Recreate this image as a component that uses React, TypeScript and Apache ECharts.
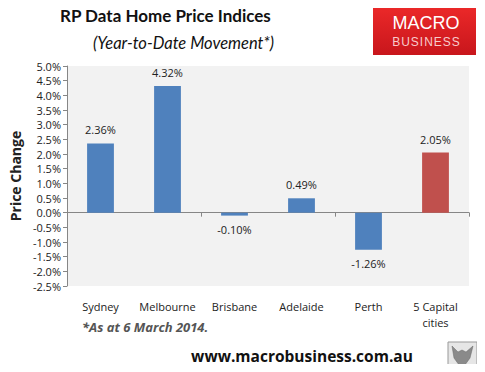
import React, { useEffect, useRef } from "react";
import * as echarts from "echarts";

const categories = ["Sydney", "Melbourne", "Brisbane", "Adelaide", "Perth", "5 Capital\ncities"];
const priceChange = [2.36, 4.32, -0.1, 0.49, -1.26, 2.05];
const barColors = ["#4f81bd", "#4f81bd", "#4f81bd", "#4f81bd", "#4f81bd", "#c0504d"];
const yMin = -2.5;
const yMax = 5;
const yStep = 0.5;

const FONT = "Open Sans";

export default function App() {
  const ref = useRef<HTMLDivElement>(null);
  useEffect(() => {
    if (!ref.current) return;
    const chart = echarts.init(ref.current, null, { renderer: "svg" });
    const option: any = {
      animation: false,
      backgroundColor: "#ffffff",
      textStyle: { fontFamily: FONT },
      grid: {
        left: 65,
        right: 16,
        top: 66,
        bottom: 86,
        show: true,
        backgroundColor: "#f2f2f2",
        borderWidth: 0,
      },
      xAxis: [
        {
          type: "category",
          data: categories,
          position: "bottom",
          axisLine: { show: true, onZero: true, lineStyle: { color: "#868686", width: 1 } },
          axisTick: { show: true, length: 4, lineStyle: { color: "#868686" } },
          axisLabel: { show: false },
        },
        {
          type: "category",
          data: categories,
          position: "bottom",
          axisLine: { show: false, onZero: false },
          axisTick: { show: false },
          axisLabel: {
            show: true,
            color: "#222",
            fontSize: 11,
            fontFamily: FONT,
            margin: 12,
            lineHeight: 16,
            interval: 0,
          },
        },
      ],
      yAxis: {
        type: "value",
        min: yMin,
        max: yMax,
        interval: yStep,
        name: "Price Change",
        nameLocation: "middle",
        nameGap: 44,
        nameTextStyle: { fontSize: 14, fontWeight: "bold", color: "#222", fontFamily: FONT },
        axisLine: { show: true, lineStyle: { color: "#868686" } },
        axisTick: { show: true, length: 4, lineStyle: { color: "#868686" } },
        splitLine: { show: false },
        axisLabel: {
          color: "#222",
          fontSize: 11,
          fontFamily: FONT,
          margin: 6,
          formatter: (v: number) => v.toFixed(1) + "%",
        },
      },
      series: [
        {
          type: "bar",
          xAxisIndex: 0,
          barWidth: "40%",
          data: priceChange.map((v, i) => ({
            value: v,
            itemStyle: { color: barColors[i] },
            label: { position: v >= 0 ? "top" : "bottom" },
          })),
          label: {
            show: true,
            color: "#222",
            fontSize: 11,
            fontFamily: FONT,
            distance: 8,
            formatter: (p: any) => p.value.toFixed(2) + "%",
          },
        },
      ],
      graphic: [
        {
          type: "text",
          left: 60,
          top: 7,
          style: { text: "RP Data Home Price Indices", font: "bold 17px Lato", fill: "#111" },
        },
        {
          type: "text",
          left: 93,
          top: 34,
          style: { text: "(Year-to-Date Movement*)", font: "italic 16.5px Lato", fill: "#111" },
        },
        {
          type: "rect",
          shape: { x: 373, y: 3, width: 103, height: 52 },
          style: {
            fill: new echarts.graphic.LinearGradient(0, 0, 0, 1, [
              { offset: 0, color: "#ee2a2a" },
              { offset: 1, color: "#c8161c" },
            ]),
          },
        },
        {
          type: "text",
          x: 426,
          y: 23,
          style: {
            text: "MACRO",
            font: "18px 'Liberation Sans'",
            fill: "#ffffff",
            align: "center",
            verticalAlign: "middle",
          },
        },
        {
          type: "text",
          x: 426,
          y: 42,
          style: {
            text: "B\u200aU\u200aS\u200aI\u200aN\u200aE\u200aS\u200aS",
            font: "12px 'Liberation Sans'",
            fill: "#f7cccc",
            align: "center",
            verticalAlign: "middle",
          },
        },
        {
          type: "text",
          left: 82,
          top: 320,
          style: { text: "*As at 6 March 2014.", font: "italic bold 13px 'Open Sans'", fill: "#555" },
        },
        {
          type: "text",
          x: 302,
          y: 356,
          style: {
            text: "www.macrobusiness.com.au",
            font: "bold 15.5px 'Open Sans'",
            fill: "#111",
            align: "center",
            verticalAlign: "middle",
          },
        },
        {
          type: "rect",
          shape: { x: 448, y: 342, width: 29, height: 29 },
          style: { fill: "#e6e6e6", stroke: "#999", lineWidth: 1 },
        },
        {
          type: "polygon",
          shape: {
            points: [
              [452, 346], [458, 352], [462, 350], [466, 352], [473, 346], [470, 358], [462, 369], [454, 358],
            ],
          },
          style: { fill: "#8a8a8a", stroke: "#666", lineWidth: 0.5 },
        },
      ],
    };
    chart.setOption(option);
    return () => chart.dispose();
  }, []);
  return <div ref={ref} style={{ width: 485, height: 372, margin: -8 }} />;
}
